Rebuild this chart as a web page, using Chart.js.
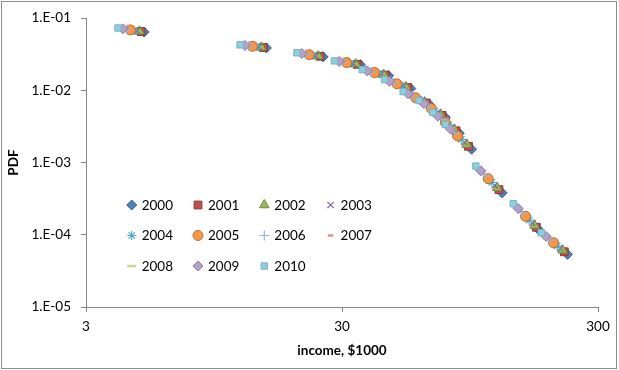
<!DOCTYPE html>
<html>
<head>
<meta charset="utf-8">
<script src="https://cdn.jsdelivr.net/npm/chart.js@4.4.1/dist/chart.umd.min.js"></script>
<style>
  html, body { margin: 0; padding: 0; background: #fff; }
</style>
</head>
<body>
<canvas id="chart" width="619" height="370"></canvas>
<script>
// income ($1000) and PDF per bracket, one pair of arrays per year
const years = ['2000', '2001', '2002', '2003', '2004', '2005', '2006', '2007', '2008', '2009', '2010'];

const income2000 = [5.06, 15.2, 25.3, 35.4, 45.6, 55.7, 65.8, 76.0, 86.1, 96.2, 126.6, 177.2, 227.9];
const pdf2000 = [0.0642, 0.0387, 0.0291, 0.0226, 0.01594, 0.01057, 0.00637, 0.00422, 0.00254, 0.00153, 0.000381, 0.000115, 0.0000536];

const income2001 = [4.92, 14.77, 24.62, 34.47, 44.32, 54.16, 64.01, 73.86, 83.71, 93.56, 123.1, 172.3, 221.6];
const pdf2001 = [0.0652, 0.0392, 0.0296, 0.0229, 0.0163, 0.01094, 0.00669, 0.0045, 0.00275, 0.00168, 0.000422, 0.000127, 0.0000582];

const income2002 = [4.85, 14.54, 24.24, 33.94, 43.63, 53.33, 63.02, 72.72, 82.42, 92.11, 121.2, 169.7, 218.2];
const pdf2002 = [0.0657, 0.0394, 0.0298, 0.0231, 0.0165, 0.01114, 0.00687, 0.00466, 0.00287, 0.00177, 0.000446, 0.000134, 0.0000609];

const income2003 = [4.74, 14.22, 23.7, 33.18, 42.66, 52.14, 61.62, 71.1, 80.58, 90.06, 118.5, 165.9, 213.3];
const pdf2003 = [0.0665, 0.0398, 0.0302, 0.0234, 0.0168, 0.01145, 0.00715, 0.0049, 0.00306, 0.00191, 0.000484, 0.000146, 0.0000651];

const income2004 = [4.62, 13.85, 23.08, 32.31, 41.54, 50.78, 60.01, 69.24, 78.47, 87.7, 115.4, 161.6, 207.7];
const pdf2004 = [0.0674, 0.0402, 0.0306, 0.0237, 0.0172, 0.01182, 0.00748, 0.0052, 0.00329, 0.00209, 0.000532, 0.00016, 0.0000703];

const income2005 = [4.47, 13.4, 22.34, 31.28, 40.21, 49.15, 58.08, 67.02, 75.96, 84.89, 111.7, 156.4, 201.1];
const pdf2005 = [0.0687, 0.0407, 0.0311, 0.0242, 0.0176, 0.01229, 0.00792, 0.00561, 0.00362, 0.00233, 0.000599, 0.00018, 0.0000775];

const income2006 = [4.33, 12.98, 21.64, 30.3, 38.95, 47.61, 56.26, 64.92, 73.58, 82.23, 108.2, 151.5, 194.8];
const pdf2006 = [0.0699, 0.0413, 0.0317, 0.0246, 0.0181, 0.01279, 0.00839, 0.00605, 0.00397, 0.0026, 0.000676, 0.000203, 0.0000854];

const income2007 = [4.24, 12.72, 21.2, 29.68, 38.16, 46.64, 55.12, 63.6, 72.08, 80.56, 106.0, 148.4, 190.8];
const pdf2007 = [0.0706, 0.0416, 0.032, 0.0248, 0.0184, 0.01309, 0.00867, 0.00632, 0.00419, 0.00277, 0.000723, 0.000217, 0.0000903];

const income2008 = [4.14, 12.42, 20.7, 28.98, 37.26, 45.54, 53.82, 62.1, 70.38, 78.66, 103.5, 144.9, 186.3];
const pdf2008 = [0.0716, 0.042, 0.0325, 0.0252, 0.0188, 0.01351, 0.00908, 0.0067, 0.0045, 0.00303, 0.000795, 0.000239, 0.0000974];

const income2009 = [4.18, 12.54, 20.9, 29.26, 37.62, 45.98, 54.34, 62.7, 71.06, 79.42, 104.5, 146.3, 188.1];
const pdf2009 = [0.0712, 0.0418, 0.0323, 0.0251, 0.0186, 0.01336, 0.00893, 0.00656, 0.00439, 0.00293, 0.000768, 0.000231, 0.0000948];

const income2010 = [4.0, 12.0, 20.0, 28.0, 36.0, 44.0, 52.0, 60.0, 68.0, 76.0, 100.0, 140.0, 180.0];
const pdf2010 = [0.0729, 0.0426, 0.0331, 0.0256, 0.0193, 0.01406, 0.00962, 0.00723, 0.00494, 0.00338, 0.000895, 0.000269, 0.000107];

const xTickValues = [3, 30, 300];
const xTickLabels = ['3', '30', '300'];
const yTickValues = [1e-5, 1e-4, 1e-3, 1e-2, 1e-1];
const yTickLabels = ['1.E-05', '1.E-04', '1.E-03', '1.E-02', '1.E-01'];

const incomes = [income2000, income2001, income2002, income2003, income2004, income2005,
  income2006, income2007, income2008, income2009, income2010];
const pdfs = [pdf2000, pdf2001, pdf2002, pdf2003, pdf2004, pdf2005,
  pdf2006, pdf2007, pdf2008, pdf2009, pdf2010];

// Excel 2007 style markers
const markerStyles = ['rectRot', 'rect', 'triangle', 'crossRot', 'star', 'circle', 'cross', 'line', 'line', 'rectRot', 'rect'];
const markerSizes = [5, 5.5, 5.5, 4.5, 4.5, 5, 5, 2.8, 4.5, 5, 4.5];
const fillColors = ['#4F81BD', '#C0504D', '#9BBB59', '#8064A2', '#4BACC6', '#F79646', '#95B3D7', '#D99694', '#C3D69B', '#B3A2C7', '#93CDDD'];
const edgeColors = ['#385D8A', '#8C3836', '#71893F', '#8064A2', '#4BACC6', '#B66D31', '#95B3D7', '#D99694', '#C3D69B', '#8E7CAE', '#6FB5C8'];
const edgeWidths = [1, 1, 1, 1.2, 1.2, 1, 1.2, 2.5, 2.5, 1, 1];

const FONT = 'Lato, "Open Sans", sans-serif';

const datasets = years.map((y, i) => ({
  label: y,
  data: incomes[i].map((x, j) => ({ x: x, y: pdfs[i][j] })),
  pointStyle: markerStyles[i],
  pointRadius: markerSizes[i],
  pointBackgroundColor: fillColors[i],
  pointBorderColor: edgeColors[i],
  pointBorderWidth: edgeWidths[i],
  showLine: false,
  order: years.length - i
}));

const frame = {
  id: 'frame',
  beforeDraw(chart) {
    const ctx = chart.ctx;
    ctx.save();
    ctx.fillStyle = '#fff';
    ctx.fillRect(0, 0, chart.width, chart.height);
    ctx.restore();
  },
  afterDraw(chart) {
    const ctx = chart.ctx;
    ctx.save();
    ctx.strokeStyle = '#8c8c8c';
    ctx.lineWidth = 1;
    ctx.strokeRect(1.5, 1.5, 615, 367);
    ctx.restore();
  }
};

// legend grid inside the plot, 4 columns
const gridLegend = {
  id: 'gridLegend',
  afterDatasetsDraw(chart) {
    const ctx = chart.ctx;
    ctx.save();
    ctx.font = '13.5px ' + FONT;
    ctx.textBaseline = 'middle';
    ctx.fillStyle = '#000';
    chart.data.datasets.forEach((ds, i) => {
      const col = i % 4, row = Math.floor(i / 4);
      const mx = 131.7 + col * 66.3;
      const my = 205 + row * 30.5;
      ctx.fillStyle = ds.pointBackgroundColor;
      ctx.strokeStyle = ds.pointBorderColor;
      ctx.lineWidth = ds.pointBorderWidth;
      Chart.helpers.drawPoint(ctx, {
        pointStyle: ds.pointStyle, radius: ds.pointRadius, rotation: 0, borderWidth: ds.pointBorderWidth
      }, mx, my);
      ctx.fillStyle = '#000';
      ctx.textAlign = 'left';
      ctx.fillText(ds.label, mx + 10, my + 0.5);
    });
    ctx.restore();
  }
};

new Chart(document.getElementById('chart'), {
  type: 'scatter',
  data: { datasets: datasets },
  plugins: [frame, gridLegend],
  options: {
    responsive: false,
    animation: false,
    devicePixelRatio: 1,
    layout: { padding: { left: 0, right: 21, top: 16, bottom: 0 } },
    plugins: { legend: { display: false }, tooltip: { enabled: false } },
    scales: {
      x: {
        type: 'logarithmic',
        min: 3,
        max: 300,
        afterBuildTicks: s => { s.ticks = xTickValues.map(v => ({ value: v })); },
        afterFit: s => { s.height = 63; },
        ticks: {
          callback: (v, i) => xTickLabels[i],
          autoSkip: false, maxRotation: 0, padding: 7,
          color: '#000', font: { family: FONT, size: 13.5 }
        },
        grid: { drawOnChartArea: false, drawTicks: true, tickLength: 5, color: '#868686' },
        border: { color: '#868686' },
        title: {
          display: true, text: 'income, $1000', color: '#000',
          font: { family: FONT, size: 13.5, weight: 'bold' },
          padding: { top: 0, bottom: 11 }
        }
      },
      y: {
        type: 'logarithmic',
        min: 1e-5,
        max: 1e-1,
        afterBuildTicks: s => { s.ticks = yTickValues.map(v => ({ value: v })); },
        afterFit: s => { s.width = 86; },
        ticks: {
          callback: (v, i) => yTickLabels[i],
          autoSkip: false, padding: 10,
          color: '#000', font: { family: FONT, size: 13.5 }
        },
        grid: { drawOnChartArea: false, drawTicks: true, tickLength: 5, color: '#868686' },
        border: { color: '#868686' },
        title: {
          display: true, text: 'PDF', color: '#000',
          font: { family: FONT, size: 13.5, weight: 'bold' },
          padding: { top: 6, bottom: 0 }
        }
      }
    }
  }
});
</script>
</body>
</html>
